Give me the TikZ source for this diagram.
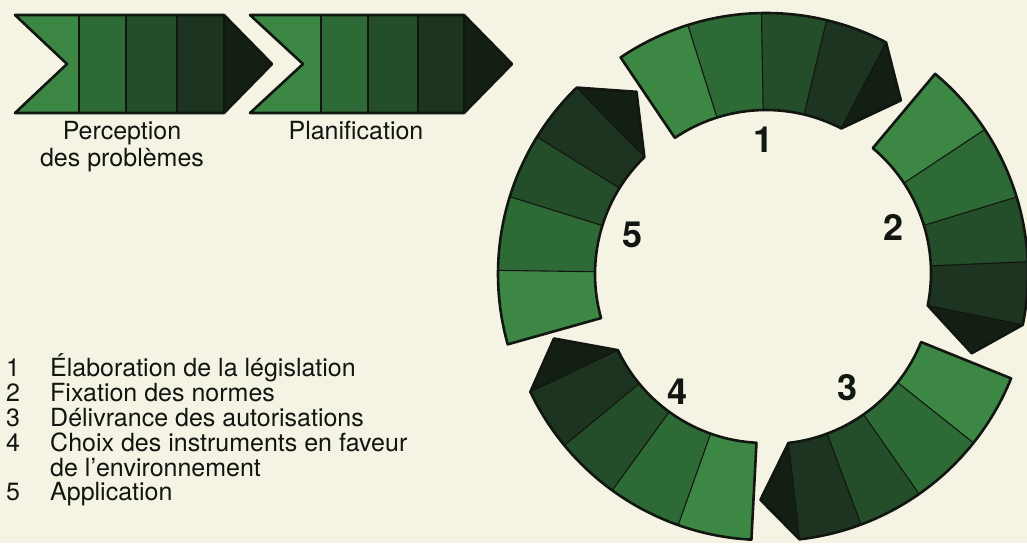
\documentclass[tikz,border=0pt]{standalone}
\usepackage{fontspec}
\setmainfont{TeX Gyre Heros}
\definecolor{bg}{RGB}{244,243,228}
\definecolor{gA}{RGB}{61,135,69}
\definecolor{gB}{RGB}{46,106,54}
\definecolor{gC}{RGB}{36,78,42}
\definecolor{gD}{RGB}{28,52,32}
\definecolor{gE}{RGB}{20,31,20}
\definecolor{ink}{RGB}{18,22,16}
% #1,#2 centre, #3 start angle, #4 angle of the arrow point behind the start
\newcommand{\ringseg}[4]{%
  \begin{scope}[shift={(#1,#2)}]
    \foreach \a/\b/\c in {0/16.5/gA,16.5/33/gB,33/47.5/gC,47.5/61.5/gD}{
      \fill[\c] ({#3-\a}:163) arc[start angle={#3-\a}, end angle={#3-\b}, radius=163]
        -- ({#3-\b}:260) arc[start angle={#3-\b}, end angle={#3-\a}, radius=260] -- cycle;
    }
    \fill[gE] ({#3-61.5}:260) -- ({#3-#4}:219) -- ({#3-61.5}:163) -- cycle;
    \foreach \a in {16.5,33,47.5,61.5}{
      \draw[divline] ({#3-\a}:163) -- ({#3-\a}:260);
    }
    \draw[outline] ({#3}:163) arc[start angle={#3}, end angle={#3-61.5}, radius=163]
      -- ({#3-#4}:219) -- ({#3-61.5}:260)
      arc[start angle={#3-61.5}, end angle={#3}, radius=260] -- cycle;
  \end{scope}}
\begin{document}
\begin{tikzpicture}[x=1pt,y=1pt,
  outline/.style={draw=ink,line width=2.6pt,line join=round},
  divline/.style={draw=ink,line width=1.1pt},
  lbl/.style={font=\fontsize{25}{25}\selectfont,text=ink,inner sep=0pt},
  num/.style={font=\fontsize{36}{36}\selectfont\bfseries,text=ink,inner sep=0pt}]
\useasboundingbox (0,0) rectangle (1027,543);
\fill[bg] (0,0) rectangle (1027,543);
% chevron 1
\fill[gA] (15,528) -- (79,528) -- (79,430) -- (15,430) -- (67,479) -- cycle;
\fill[gB] (79,430) rectangle (126,528);
\fill[gC] (126,430) rectangle (177,528);
\fill[gD] (177,430) rectangle (224,528);
\fill[gE] (224,528) -- (272,479) -- (224,430) -- cycle;
\foreach \x in {79,126,177,224}{\draw[divline] (\x,430) -- (\x,528);}
\draw[outline] (15,528) -- (224,528) -- (272,479) -- (224,430) -- (15,430) -- (67,479) -- cycle;
% chevron 2
\fill[gA] (250,528) -- (321,528) -- (321,430) -- (250,430) -- (303,479) -- cycle;
\fill[gB] (321,430) rectangle (368,528);
\fill[gC] (368,430) rectangle (418,528);
\fill[gD] (418,430) rectangle (464,528);
\fill[gE] (464,528) -- (512,479) -- (464,430) -- cycle;
\foreach \x in {321,368,418,464}{\draw[divline] (\x,430) -- (\x,528);}
\draw[outline] (250,528) -- (464,528) -- (512,479) -- (464,430) -- (250,430) -- (303,479) -- cycle;
% chevron labels
\node[lbl,anchor=base] (perc) at (122,403) {Perception};
\node[lbl,anchor=base] (desp) at (122,376) {des problèmes};
\node[lbl,anchor=base] (plan) at (356,403) {Planification};
% ring
\ringseg{766}{270}{124}{72}
\ringseg{768}{270}{50}{71.5}
\ringseg{770}{262}{-22}{70.5}
\ringseg{765}{263}{-93}{71.5}
\ringseg{758}{269}{-164.3}{72}
\node[num] (r1) at (763,403) {1};
\node[num] (r2) at (893,316) {2};
\node[num] (r3) at (847,155) {3};
\node[num] (r4) at (677,151) {4};
\node[num] (r5) at (632,308) {5};
% legend
\node[lbl,anchor=base west] (n1) at (6,166) {1};
\node[lbl,anchor=base west] (t1) at (50,166) {Élaboration de la législation};
\node[lbl,anchor=base west] (n2) at (6,141) {2};
\node[lbl,anchor=base west] (t2) at (50,141) {Fixation des normes};
\node[lbl,anchor=base west] (n3) at (6,116) {3};
\node[lbl,anchor=base west] (t3) at (50,116) {Délivrance des autorisations};
\node[lbl,anchor=base west] (n4) at (6,91) {4};
\node[lbl,anchor=base west] (t4) at (50,91) {Choix des instruments en faveur};
\node[lbl,anchor=base west] (t4b) at (50,66) {de l’environnement};
\node[lbl,anchor=base west] (n5) at (6,42) {5};
\node[lbl,anchor=base west] (t5) at (50,42) {Application};
\end{tikzpicture}
\end{document}
